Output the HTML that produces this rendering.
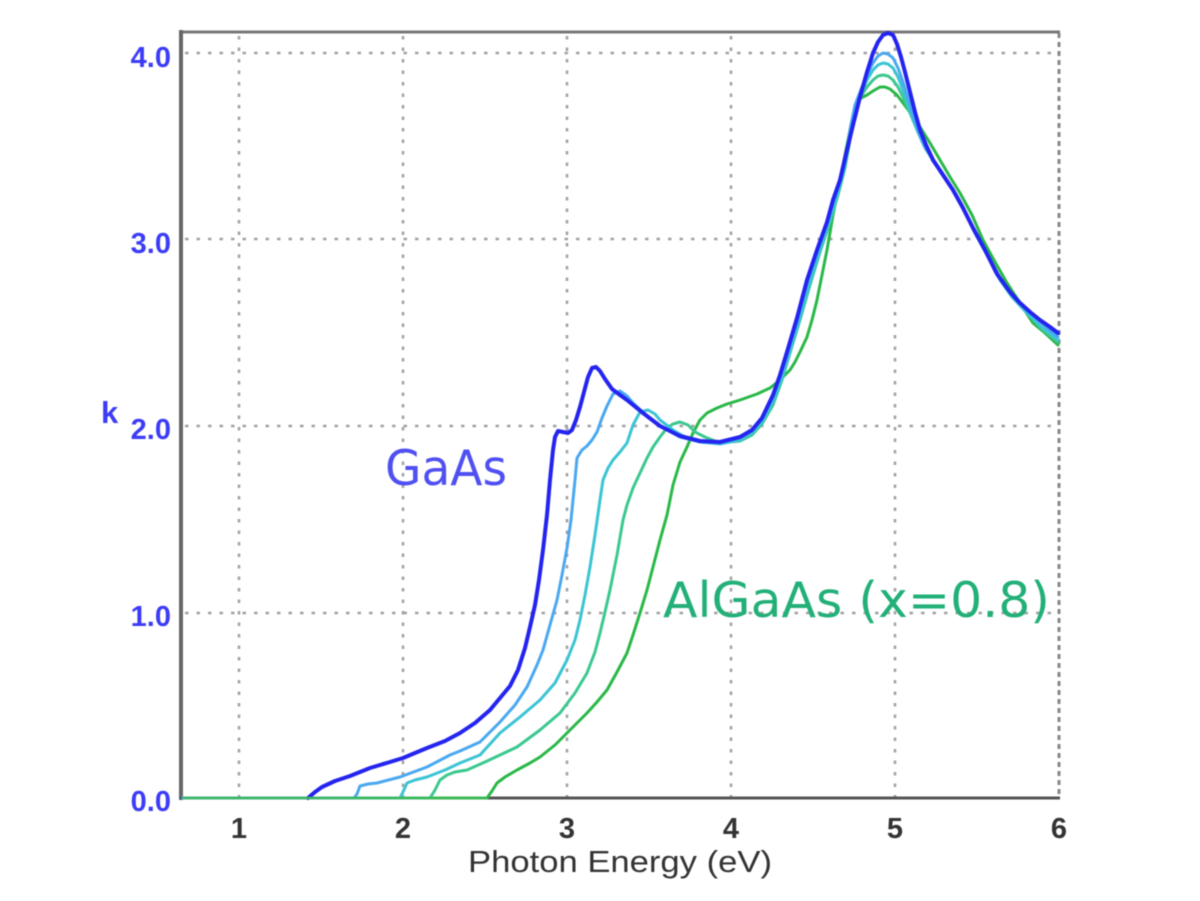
<!DOCTYPE html>
<html><head><meta charset="utf-8">
<style>
html,body{margin:0;padding:0;background:#fff;}
svg{display:block;filter:blur(0.5px);}
</style></head>
<body>
<svg width="1200" height="901" viewBox="0 0 1200 901" xmlns="http://www.w3.org/2000/svg">
<rect width="1200" height="901" fill="#fff"/>
<!-- grid -->
<g stroke="#a0a0a0" stroke-width="2.5" stroke-dasharray="3.5 8" fill="none">
<line x1="239" y1="36" x2="239" y2="797"/>
<line x1="403" y1="36" x2="403" y2="797"/>
<line x1="567" y1="36" x2="567" y2="797"/>
<line x1="731" y1="36" x2="731" y2="797"/>
<line x1="895" y1="36" x2="895" y2="797"/>
<line x1="185" y1="53" x2="1059" y2="53"/>
<line x1="185" y1="239" x2="1059" y2="239"/>
<line x1="185" y1="426" x2="1059" y2="426"/>
<line x1="185" y1="613" x2="1059" y2="613"/>
</g>
<line x1="1059" y1="33" x2="1059" y2="798" stroke="#888" stroke-width="3" stroke-dasharray="5 4"/>
<!-- frame -->
<line x1="180" y1="32" x2="1060" y2="32" stroke="#777" stroke-width="3"/>
<line x1="181" y1="30" x2="181" y2="800" stroke="#666" stroke-width="4"/>
<line x1="180" y1="798" x2="1060" y2="798" stroke="#555" stroke-width="3"/>
<!-- curves -->
<g fill="none" stroke-linejoin="round" stroke-linecap="round">
<polyline stroke="#2ab848" stroke-width="3" points="183,798 487,798 492,791 497,783 505,777 517,770 530,763 540,757 555,745 567,733 577,723 587,713 597,702 607,690 617,672 627,653 633,635 640,613 647,590 653,567 660,540 667,515 673,485 680,462 687,447 693,433 700,420 707,413 717,408 727,404 740,400 757,394 770,388 780,380 790,370 795,362 800,352 807,337 812,320 817,300 822,275 827,250 833,215 838,190 843,165 848,140 853,115 858,100 863,97 867,95 873,91 880,87 885,87 890,89 897,95 903,103 912,115 920,127 930,143 940,160 950,177 960,193 972,215 983,240 995,262 1007,283 1020,303 1033,323 1045,333 1058,345"/>
<polyline stroke="#3cc890" stroke-width="3" points="183,798 430,798 435,790 440,780 447,775 455,772 467,770 485,762 500,755 517,747 540,730 560,713 575,693 587,673 595,652 600,633 605,612 610,590 617,555 623,520 627,505 633,488 640,473 647,458 653,447 660,437 667,428 673,424 680,422 688,425 695,432 705,437 720,443 740,441 752,435 762,424 773,405 782,380 790,353 800,320 810,285 820,252 830,222 838,195 845,168 850,140 855,112 860,98 867,87 873,80 878,76 883,75 888,76 893,80 898,87 903,97 910,113 918,132 927,150 937,165 947,180 957,196 967,215 977,236 990,260 1003,283 1015,299 1028,314 1043,330 1058,342"/>
<polyline stroke="#3cc4d4" stroke-width="3" points="183,798 400,798 403,792 407,783 415,780 427,777 445,770 460,763 480,755 500,733 520,717 540,700 555,683 567,660 575,640 580,620 585,595 590,567 595,535 600,500 603,480 608,468 613,460 620,452 627,443 633,425 640,412 648,410 655,414 660,420 673,430 685,437 700,442 720,444 740,440 752,433 762,422 773,402 782,378 790,352 800,318 810,282 820,250 830,220 838,192 845,165 850,137 855,110 860,96 867,80 873,70 878,65 883,63 888,64 893,68 898,77 903,90 910,110 917,130 925,148 935,163 945,178 955,193 965,212 975,233 987,255 1000,280 1012,297 1025,311 1040,326 1058,340"/>
<polyline stroke="#4aa8f0" stroke-width="3" points="183,798 354,798 357,794 360,786 368,784 377,783 400,777 427,767 450,755 460,751 480,742 500,722 515,705 527,687 537,665 543,650 550,625 557,600 562,575 567,548 571,520 575,480 577,458 582,450 587,446 592,440 597,432 602,418 607,406 613,394 620,391 627,396 633,403 647,416 660,426 680,437 700,442 720,443 740,438 752,431 762,419 773,397 780,378 787,355 797,322 807,284 817,252 827,222 837,190 845,160 850,130 855,105 860,92 867,75 873,63 878,56 883,53 888,54 893,58 898,68 903,82 910,105 917,128 925,147 935,163 945,178 955,193 965,212 975,232 987,254 1000,278 1012,294 1025,308 1040,322 1058,337"/>
<polyline stroke="#2424f0" stroke-width="4" points="308,798 315,792 322,787 335,781 350,776 370,768 390,762 403,758 427,748 445,741 460,733 475,723 490,710 500,698 510,686 518,670 525,648 530,627 535,605 539,580 543,550 547,515 550,480 553,450 555,437 558,431 563,432 568,433 572,430 576,420 580,407 584,392 588,377 592,368 596,367 600,371 605,379 612,389 620,395 627,400 643,413 660,426 680,436 700,441 720,442 740,437 752,430 762,418 773,395 780,375 787,352 797,318 807,280 817,250 827,222 833,200 840,180 847,150 853,125 860,97 867,72 873,53 878,42 883,35 888,33 893,35 897,44 901,57 905,72 910,92 915,112 920,130 926,145 933,160 943,175 953,190 963,208 973,228 985,250 997,274 1010,292 1020,303 1030,312 1040,320 1050,327 1058,333"/>
<line x1="184" y1="798" x2="486" y2="798" stroke="#3fb858" stroke-width="2.5"/>
</g>
<!-- y tick labels -->
<g font-family="Liberation Sans, Arial, sans-serif" font-weight="bold" font-size="29" fill="#3c3cf8" text-anchor="end">
<text x="171" y="67">4.0</text>
<text x="171" y="253">3.0</text>
<text x="171" y="439">2.0</text>
<text x="171" y="626">1.0</text>
<text x="171" y="811">0.0</text>
</g>
<text x="101" y="423" font-family="Liberation Sans, Arial, sans-serif" font-weight="bold" font-size="31" fill="#3c3cf8">k</text>
<!-- x tick labels -->
<g font-family="Liberation Sans, Arial, sans-serif" font-weight="bold" font-size="29" fill="#333" text-anchor="middle">
<text x="239" y="838">1</text>
<text x="403" y="838">2</text>
<text x="567" y="838">3</text>
<text x="731" y="838">4</text>
<text x="895" y="838">5</text>
<text x="1059" y="838">6</text>
</g>
<text x="468" y="872" font-family="Liberation Sans, Arial, sans-serif" font-size="31" fill="#333" textLength="304" lengthAdjust="spacingAndGlyphs">Photon Energy (eV)</text>
<!-- annotations -->
<text x="385" y="485" font-family="DejaVu Sans, Liberation Sans, sans-serif" font-size="49" fill="#5050f2" textLength="122" lengthAdjust="spacingAndGlyphs">GaAs</text>
<text x="663" y="617" font-family="DejaVu Sans, Liberation Sans, sans-serif" font-size="49" fill="#22b078" textLength="387" lengthAdjust="spacingAndGlyphs">AlGaAs (x=0.8)</text>
</svg>
</body></html>
